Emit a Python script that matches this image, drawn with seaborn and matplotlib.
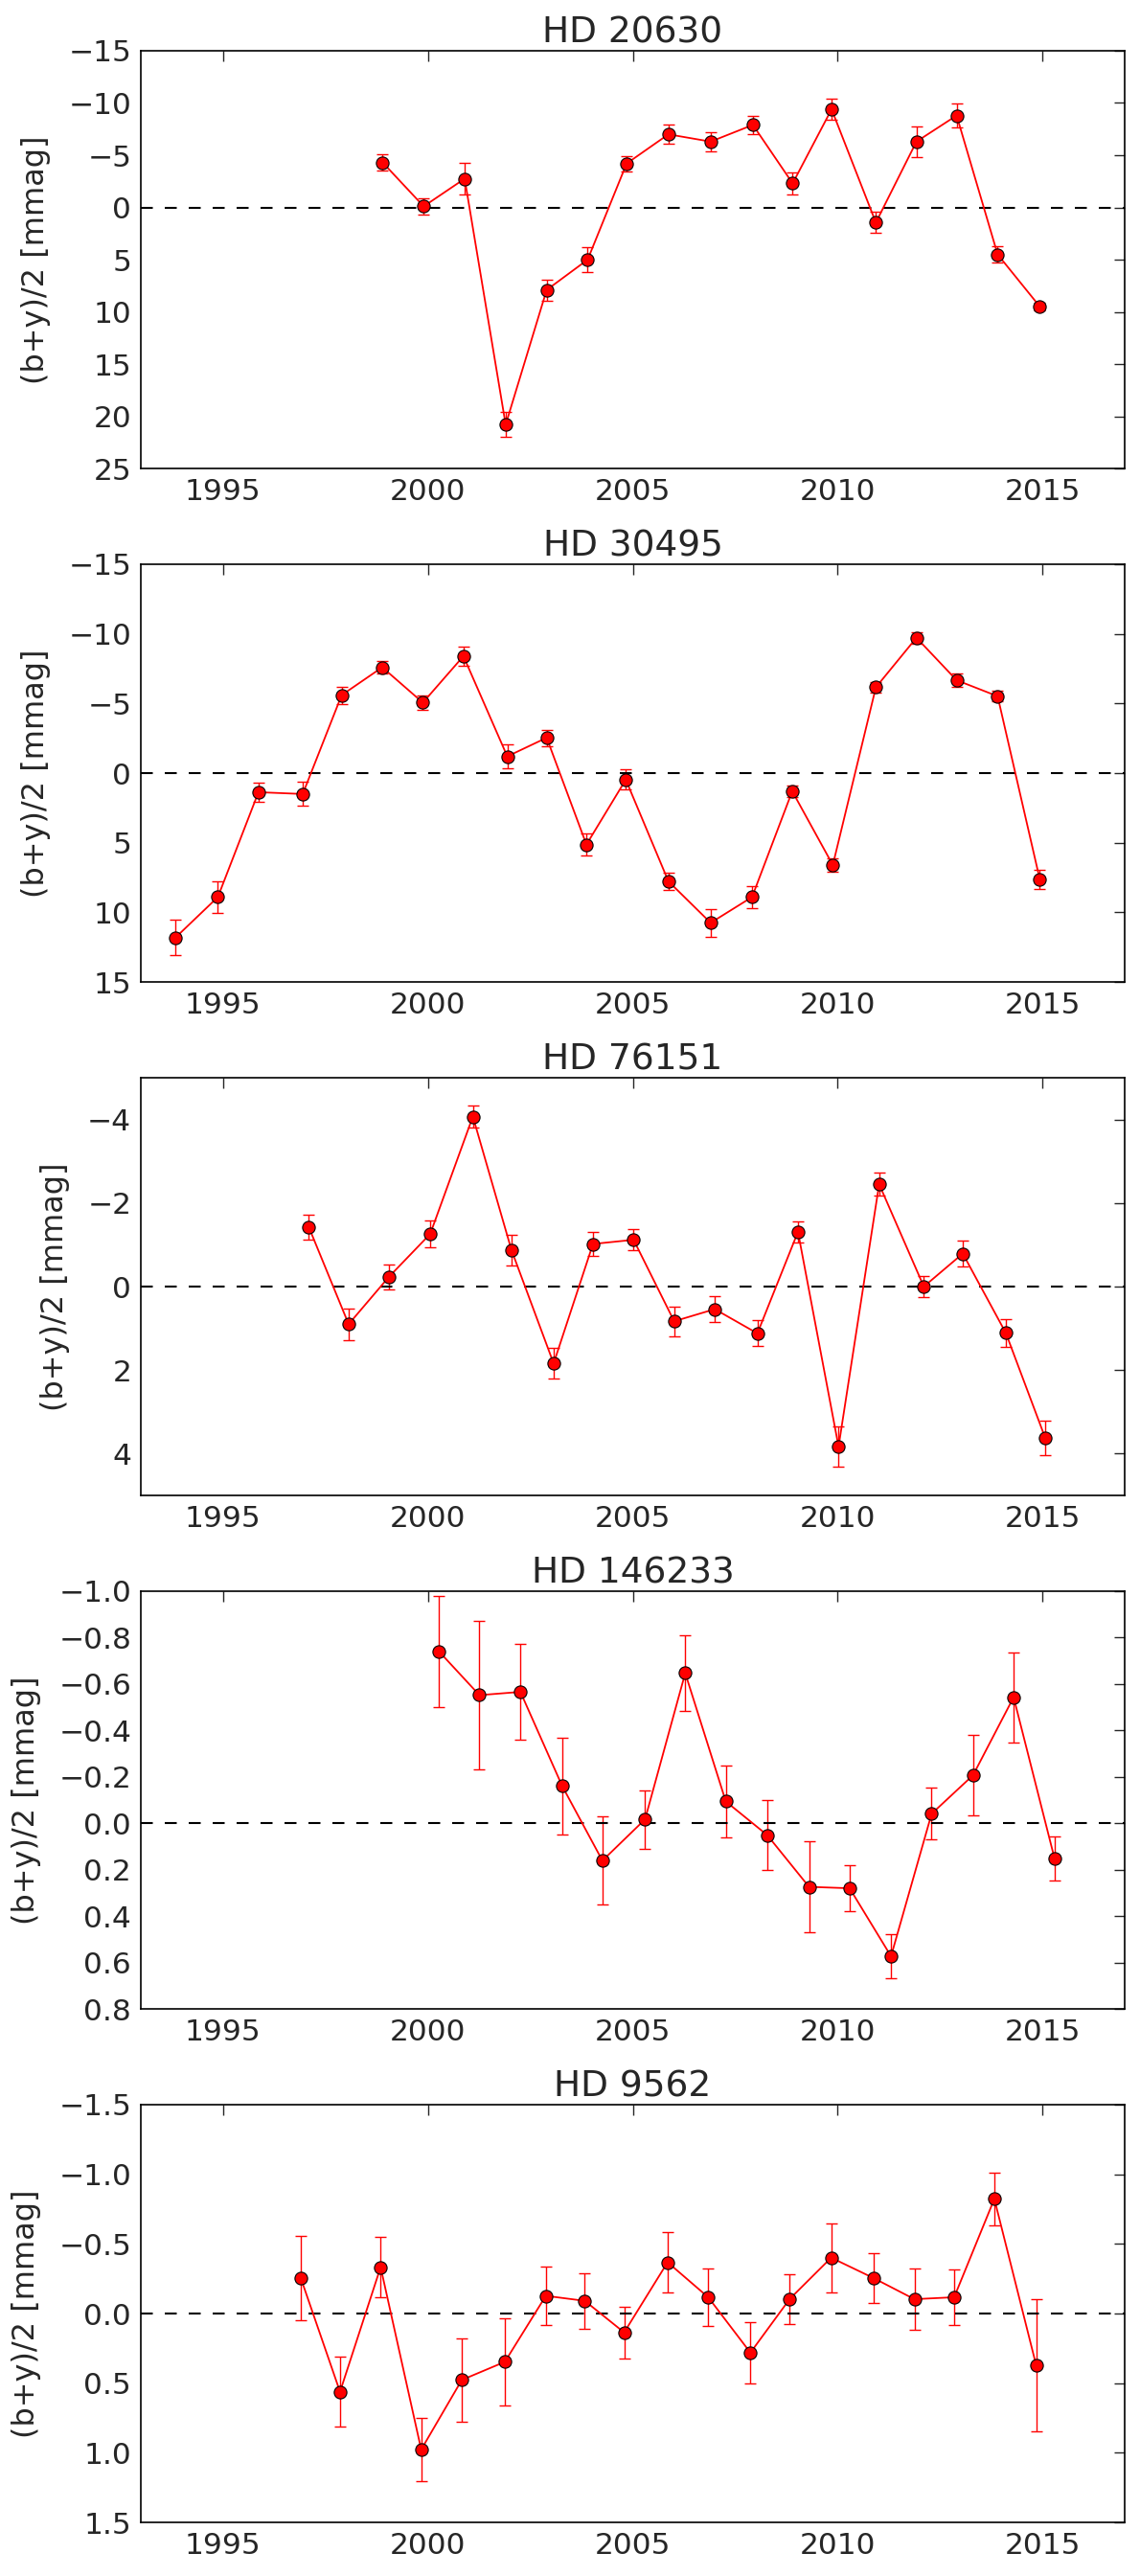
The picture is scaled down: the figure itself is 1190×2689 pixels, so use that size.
import numpy as np
import seaborn as sns
import matplotlib
matplotlib.use('Agg')
import matplotlib.pyplot as plt
from matplotlib.ticker import FuncFormatter

# star names
stars = ['HD 20630', 'HD 30495', 'HD 76151', 'HD 146233', 'HD 9562']

# HD 20630
x1 = [1998.9, 1999.9, 2000.9, 2001.9, 2002.9, 2003.9, 2004.85, 2005.87, 2006.9, 2007.93,
      2008.9, 2009.85, 2010.93, 2011.92, 2012.9, 2013.9, 2014.93]
y1 = [-4.3, -0.1, -2.75, 20.8, 7.9, 5.0, -4.2, -7.0, -6.3, -7.9,
      -2.3, -9.4, 1.45, -6.3, -8.8, 4.5, 9.5]
e1 = [0.8, 0.8, 1.5, 1.2, 1.0, 1.2, 0.75, 0.9, 0.9, 0.9,
      1.05, 1.0, 1.0, 1.45, 1.15, 0.8, 0.4]

# HD 30495
x2 = [1993.85, 1994.88, 1995.87, 1996.95, 1997.9, 1998.89, 1999.88, 2000.87, 2001.94, 2002.9, 2003.87,
      2004.83, 2005.87, 2006.9, 2007.91, 2008.89, 2009.88, 2010.93, 2011.92, 2012.9, 2013.9, 2014.93]
y2 = [11.8, 8.9, 1.37, 1.5, -5.6, -7.6, -5.06, -8.4, -1.2, -2.54, 5.13,
      0.47, 7.77, 10.75, 8.9, 1.3, 6.6, -6.16, -9.72, -6.67, -5.52, 7.65]
e2 = [1.3, 1.15, 0.7, 0.87, 0.62, 0.46, 0.54, 0.68, 0.85, 0.58, 0.78,
      0.72, 0.6, 1.0, 0.8, 0.44, 0.47, 0.35, 0.4, 0.49, 0.39, 0.67]

# HD 76151
x3 = [1997.1, 1998.07, 1999.05, 2000.06, 2001.1, 2002.04, 2003.07, 2004.03, 2005.02, 2006.01,
      2007.0, 2008.04, 2009.03, 2010.02, 2011.01, 2012.1, 2013.05, 2014.1, 2015.06]
y3 = [-1.42, 0.9, -0.23, -1.26, -4.07, -0.88, 1.84, -1.02, -1.12, 0.83,
      0.54, 1.12, -1.31, 3.83, -2.45, 0.0, -0.79, 1.11, 3.62]
e3 = [0.3, 0.38, 0.3, 0.32, 0.27, 0.37, 0.37, 0.28, 0.25, 0.36,
      0.31, 0.31, 0.26, 0.49, 0.28, 0.25, 0.31, 0.33, 0.42]

# HD 146233
x4 = [2000.27, 2001.26, 2002.26, 2003.28, 2004.26, 2005.3, 2006.28, 2007.27,
      2008.28, 2009.3, 2010.29, 2011.3, 2012.29, 2013.3, 2014.29, 2015.29]
y4 = [-0.741, -0.552, -0.566, -0.16, 0.161, -0.017, -0.647, -0.094,
      0.051, 0.274, 0.28, 0.573, -0.041, -0.207, -0.543, 0.153]
e4 = [0.24, 0.32, 0.205, 0.21, 0.19, 0.126, 0.163, 0.153,
      0.152, 0.197, 0.098, 0.096, 0.112, 0.174, 0.194, 0.095]

# HD 9562
x5 = [1996.9, 1997.86, 1998.85, 1999.84, 2000.83, 2001.88, 2002.88, 2003.83, 2004.79, 2005.85,
      2006.84, 2007.87, 2008.83, 2009.84, 2010.87, 2011.87, 2012.84, 2013.82, 2014.84]
y5 = [-0.257, 0.562, -0.333, 0.977, 0.477, 0.347, -0.127, -0.091, 0.136, -0.368,
      -0.117, 0.281, -0.105, -0.401, -0.255, -0.103, -0.117, -0.823, 0.371]
e5 = [0.303, 0.253, 0.219, 0.225, 0.298, 0.313, 0.21, 0.198, 0.184, 0.22,
      0.204, 0.219, 0.178, 0.249, 0.18, 0.219, 0.2, 0.187, 0.475]

# y ticks / limits per panel (top value, bottom value, step)
yranges = [(-15, 25, 5), (-15, 15, 5), (-5, 5, 2), (-1.0, 0.8, 0.2), (-1.5, 1.5, 0.5)]
yticks3 = [-4, -2, 0, 2, 4]

sns.set_style('white')
plt.rcParams['font.family'] = ['DejaVu Sans']
plt.rcParams['xtick.direction'] = 'in'
plt.rcParams['ytick.direction'] = 'in'
plt.rcParams['xtick.top'] = True
plt.rcParams['ytick.right'] = True
plt.rcParams['axes.edgecolor'] = 'black'
plt.rcParams['axes.linewidth'] = 1.2

data = [(x1, y1, e1), (x2, y2, e2), (x3, y3, e3), (x4, y4, e4), (x5, y5, e5)]

fig, axes = plt.subplots(5, 1, figsize=(11.9, 26.89), dpi=100)
fig.subplots_adjust(left=0.1235, right=0.9866, top=0.9803, bottom=0.0208, hspace=0.229)


def fmt(v, pos, dec):
    v = round(v, dec)
    if v == 0:
        v = 0.0
    s = ('{:.%df}' % dec).format(v)
    return s.replace('-', '\u2212')


for i, ax in enumerate(axes):
    x, y, e = data[i]
    ax.errorbar(x, y, yerr=e, fmt='none', ecolor='red', elinewidth=1.0,
                capsize=4.5, capthick=1.0, zorder=2)
    ax.axhline(0, color='black', ls=(0, (6, 6)), lw=1.5, zorder=2.5)
    sns.lineplot(x=x, y=y, ax=ax, color='red', marker='o', markersize=9.5,
                 markerfacecolor='red', markeredgecolor='black', markeredgewidth=0.8,
                 linewidth=1.3, estimator=None, sort=False, zorder=3)
    ax.set_xlim(1993, 2017)
    ax.set_xticks([1995, 2000, 2005, 2010, 2015])
    top, bot, step = yranges[i]
    ax.set_ylim(bot, top)
    if i == 2:
        ax.set_yticks(yticks3)
    else:
        ax.set_yticks(np.arange(top, bot + step / 2, step))
    dec = 1 if i >= 3 else 0
    ax.yaxis.set_major_formatter(FuncFormatter(lambda v, p, d=dec: fmt(v, p, d)))
    ax.tick_params(axis='both', which='major', length=8, width=1, labelsize=22.5, pad=7,
                   direction='in', top=True, right=True)
    ax.set_title(stars[i], fontsize=27, pad=6)
    ax.set_ylabel('(b+y)/2 [mmag]', fontsize=23, labelpad=13)
    ax.set_xlabel('')
    for s in ax.spines.values():
        s.set_color('black')
        s.set_linewidth(1.2)

plt.savefig('out.png', dpi=100)
